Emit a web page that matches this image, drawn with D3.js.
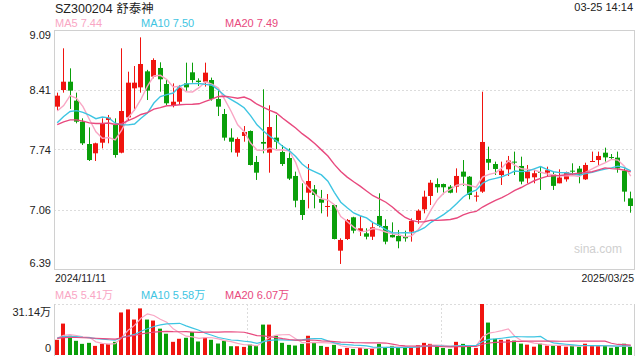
<!DOCTYPE html>
<meta charset="utf-8">
<style>
body { margin: 0; background: #fff; }
svg { display: block; font-family: Arial, "Liberation Sans", "Noto Sans CJK SC", sans-serif; }
.grid line { stroke: #dcdcdc; stroke-dasharray: 2,2; }
.frame { fill: none; stroke: #d0d0d0; }
.lbl { font-size: 11px; fill: #222; }
</style>
<svg width="640" height="360"></svg>
<script src="https://cdn.jsdelivr.net/npm/d3@7"></script>
<script>

// daily k-line, 2024/11/11 .. 2025/03/25
var opens = [8.224,8.412,8.506,8.292,8.054,7.802,7.697,7.817,8.073,8.017,
  7.704,8.103,8.431,8.442,8.623,8.563,8.661,8.480,8.243,8.280,
  8.487,8.612,8.518,8.506,8.525,8.311,8.141,7.874,7.704,7.893,
  7.949,7.599,7.825,7.704,7.874,7.712,7.644,7.441,7.170,7.252,
  7.290,7.181,7.094,7.113,6.597,6.729,6.974,6.819,6.793,6.755,
  6.989,6.876,6.774,6.763,6.763,6.812,6.944,7.064,7.215,7.350,
  7.350,7.320,7.320,7.490,7.433,7.207,7.264,7.633,7.576,7.452,
  7.516,7.603,7.554,7.414,7.426,7.486,7.478,7.460,7.358,7.403,
  7.501,7.524,7.403,7.599,7.621,7.704,7.655,7.648,7.501,7.188];
var highs = [8.382,8.883,8.657,8.382,8.092,7.990,7.817,8.092,8.130,8.092,
  8.883,8.619,8.683,9.007,8.640,8.770,8.725,8.533,8.487,8.469,
  8.721,8.721,8.544,8.721,8.552,8.420,8.198,7.979,7.877,8.005,
  7.955,7.667,8.420,8.239,8.130,7.791,7.753,7.490,7.358,7.576,
  7.339,7.283,7.237,7.120,6.737,6.955,6.980,6.989,6.850,6.913,
  7.245,6.951,6.917,6.831,6.823,6.962,7.064,7.275,7.396,7.414,
  7.355,7.339,7.527,7.621,7.440,7.264,8.393,7.772,7.603,7.603,
  7.667,7.716,7.659,7.565,7.508,7.546,7.546,7.490,7.516,7.490,
  7.584,7.554,7.591,7.716,7.716,7.761,7.689,7.716,7.527,7.264];
var lows = [8.186,8.382,8.198,8.036,7.791,7.610,7.610,7.753,7.810,7.648,
  7.697,8.073,8.179,8.382,8.299,8.544,8.393,8.243,8.216,8.254,
  8.405,8.495,8.457,8.450,8.292,8.118,7.840,7.708,7.659,7.828,
  7.560,7.396,7.697,7.478,7.746,7.554,7.395,7.087,6.944,7.075,
  7.075,7.019,6.981,6.725,6.447,6.718,6.793,6.763,6.725,6.718,
  6.861,6.669,6.745,6.624,6.699,6.699,6.900,7.019,7.113,7.252,
  7.234,7.245,7.252,7.328,7.177,7.151,7.250,7.508,7.452,7.339,
  7.441,7.452,7.347,7.358,7.358,7.283,7.433,7.283,7.358,7.377,
  7.452,7.358,7.396,7.599,7.565,7.603,7.629,7.478,7.151,7.026];
var closes = [8.348,8.506,8.405,8.054,7.810,7.621,7.810,8.036,8.100,7.678,
  8.175,8.495,8.495,8.706,8.405,8.751,8.533,8.262,8.280,8.442,
  8.442,8.525,8.503,8.608,8.311,8.224,7.874,7.828,7.859,7.938,
  7.565,7.478,7.806,7.994,7.828,7.576,7.411,7.162,7.000,7.384,
  7.226,7.139,7.102,6.729,6.718,6.944,6.823,6.850,6.755,6.861,
  6.876,6.699,6.748,6.703,6.737,6.932,7.049,7.207,7.365,7.313,
  7.313,7.252,7.441,7.433,7.226,7.219,7.825,7.591,7.520,7.501,
  7.615,7.595,7.378,7.491,7.472,7.478,7.506,7.329,7.423,7.483,
  7.493,7.452,7.565,7.610,7.667,7.651,7.648,7.527,7.264,7.102];
// volume, 万手
var volumes = [9.28,19.18,11.75,8.66,6.80,7.42,5.57,6.80,6.80,8.04,
  25.98,27.84,21.65,28.46,21.65,21.03,16.08,12.99,8.04,9.90,
  10.52,14.02,8.25,10.52,9.28,7.01,8.66,5.36,5.36,4.95,
  6.39,5.57,18.56,18.56,11.75,7.42,6.19,5.77,6.80,11.75,
  7.84,5.57,4.95,6.19,3.71,4.33,3.71,4.33,3.71,3.92,
  6.80,4.33,5.57,4.33,4.95,4.95,5.98,7.42,6.80,4.95,
  4.33,3.71,8.04,6.80,4.95,4.33,31.14,19.80,9.90,9.28,
  9.41,8.79,6.93,6.32,5.08,6.93,5.70,5.70,5.70,5.08,
  5.66,5.04,6.89,5.66,5.45,5.66,4.42,5.04,6.89,5.04];
// sessions before 11/11, only used so the MA lines start where they do
var priorCloses = [7.90,7.95,8.05,8.10,8.00,7.95,8.05,8.00,8.00,8.00,
  7.80,7.85,7.95,8.00,7.95,8.20,7.85,8.20,8.28];
var priorVolumes = [10,9,11,10,10,9,11,10,10,10,11,10,10,11,10,11,10,11,10.7];

var priceTicks = [6.39, 7.06, 7.74, 8.41, 9.09];
var volMax = 31.14;
var maDays = [5, 10, 20];
var maColors = ["#f9a6c4", "#3ec5e2", "#e8497e"];
var upColor = "#f0140f", downColor = "#0a9f0a";

var svg = d3.select("svg");
var left = 54, right = 634;

var x = d3.scaleBand()
    .domain(d3.range(closes.length))
    .range([left, right])
    .paddingInner(0.22)
    .paddingOuter(0.11);
var cx = function(i) { return x(i) + x.bandwidth() / 2; };

var y = d3.scaleLinear().domain([6.39, 9.09]).range([269, 30]);
var yv = d3.scaleLinear().domain([0, volMax]).range([355, 304]);

function movingAvg(prior, vals, n) {
  var all = prior.concat(vals), off = prior.length;
  return vals.map(function(v, i) {
    return d3.mean(all.slice(off + i - n + 1, off + i + 1));
  });
}

var priceMA = maDays.map(function(n) { return movingAvg(priorCloses, closes, n); });
var volMA = maDays.map(function(n) { return movingAvg(priorVolumes, volumes, n); });

// header
svg.append("text").attr("x", 55).attr("y", 13)
    .style("font-size", "12.5px").attr("fill", "#222")
    .text("SZ300204 舒泰神");
svg.append("text").attr("x", 633).attr("y", 11)
    .attr("text-anchor", "end").attr("class", "lbl")
    .text("03-25 14:14");

var legX = [55, 141, 225];
maDays.forEach(function(n, k) {
  svg.append("text").attr("x", legX[k]).attr("y", 27)
      .style("font-size", "11px").attr("fill", maColors[k])
      .text("MA" + n + " " + priceMA[k][closes.length - 1].toFixed(2));
  svg.append("text").attr("x", legX[k]).attr("y", 298.5)
      .style("font-size", "11px").attr("fill", maColors[k])
      .text("MA" + n + " " + volMA[k][volumes.length - 1].toFixed(2) + "万");
});

// price grid + frame
svg.append("g").attr("class", "grid")
  .selectAll("line")
  .data(priceTicks.slice(1, -1))
  .enter().append("line")
    .attr("x1", left).attr("x2", right)
    .attr("y1", function(d) { return Math.round(y(d)) + 0.5; })
    .attr("y2", function(d) { return Math.round(y(d)) + 0.5; });

svg.append("rect").attr("class", "frame")
    .attr("x", left + 0.5).attr("y", 30.5)
    .attr("width", right - left).attr("height", 239);

svg.append("g").selectAll("text")
  .data(priceTicks)
  .enter().append("text")
    .attr("class", "lbl")
    .attr("text-anchor", "end")
    .attr("x", 51)
    .attr("y", function(d, i) {
      if (i == priceTicks.length - 1) return y(d) + 8.5;
      if (i == 0) return y(d) - 2;
      return y(d) + 4;
    })
    .text(function(d) { return d.toFixed(2); });

svg.append("text").attr("x", 55).attr("y", 282)
    .attr("class", "lbl").style("font-size", "10.5px").text("2024/11/11");
svg.append("text").attr("x", 634).attr("y", 282).attr("text-anchor", "end")
    .attr("class", "lbl").style("font-size", "10.5px").text("2025/03/25");

svg.append("text").attr("x", 622).attr("y", 253).attr("text-anchor", "end")
    .style("font-size", "12px").attr("fill", "#cfcfcf").text("sina.com");

// candles
var idx = d3.range(closes.length);
var colorOf = function(i) { return closes[i] >= opens[i] ? upColor : downColor; };

var candle = svg.append("g").selectAll("g")
  .data(idx)
  .enter().append("g");

candle.append("line")
    .attr("x1", function(i) { return Math.floor(cx(i)) + 0.5; })
    .attr("x2", function(i) { return Math.floor(cx(i)) + 0.5; })
    .attr("y1", function(i) { return y(highs[i]); })
    .attr("y2", function(i) { return y(lows[i]); })
    .attr("stroke", colorOf);

candle.append("rect")
    .attr("x", function(i) { return Math.floor(cx(i)) - 2; })
    .attr("width", 5)
    .attr("y", function(i) { return y(Math.max(opens[i], closes[i])); })
    .attr("height", function(i) { return Math.max(1, Math.abs(y(opens[i]) - y(closes[i]))); })
    .attr("fill", colorOf);

// MA lines
var line = d3.line().x(function(d, i) { return cx(i); });
priceMA.forEach(function(ma, k) {
  svg.append("path")
      .datum(ma)
      .attr("fill", "none")
      .attr("stroke", maColors[k])
      .attr("stroke-width", 1.4)
      .attr("d", line.y(function(d) { return y(d); }));
});

// volume panel
var vgrid = svg.append("g").attr("class", "grid");
vgrid.append("line").attr("x1", left).attr("x2", right).attr("y1", 304.5).attr("y2", 304.5);
[1, 2].forEach(function(k) {
  var xx = Math.round(left + (right - left) * k / 3) + 0.5;
  vgrid.append("line").attr("x1", xx).attr("x2", xx).attr("y1", 304).attr("y2", 355);
});
svg.append("line").attr("x1", left + 0.5).attr("x2", left + 0.5).attr("y1", 304).attr("y2", 356)
    .attr("stroke", "#d0d0d0");
svg.append("line").attr("x1", right + 0.5).attr("x2", right + 0.5).attr("y1", 304).attr("y2", 356)
    .attr("stroke", "#d0d0d0");

svg.append("text").attr("x", 51).attr("y", 315.5).attr("text-anchor", "end")
    .attr("class", "lbl").text(volMax.toFixed(2) + "万");
svg.append("text").attr("x", 51).attr("y", 352).attr("text-anchor", "end")
    .attr("class", "lbl").text("0");

svg.append("g").selectAll("rect")
  .data(idx)
  .enter().append("rect")
    .attr("x", function(i) { return Math.floor(cx(i)) - 2; })
    .attr("width", 4)
    .attr("y", function(i) { return yv(volumes[i]); })
    .attr("height", function(i) { return yv(0) - yv(volumes[i]); })
    .attr("fill", colorOf);

volMA.forEach(function(ma, k) {
  svg.append("path")
      .datum(ma)
      .attr("fill", "none")
      .attr("stroke", maColors[k])
      .attr("stroke-width", 1.2)
      .attr("d", line.y(function(d) { return yv(d); }));
});

</script>
